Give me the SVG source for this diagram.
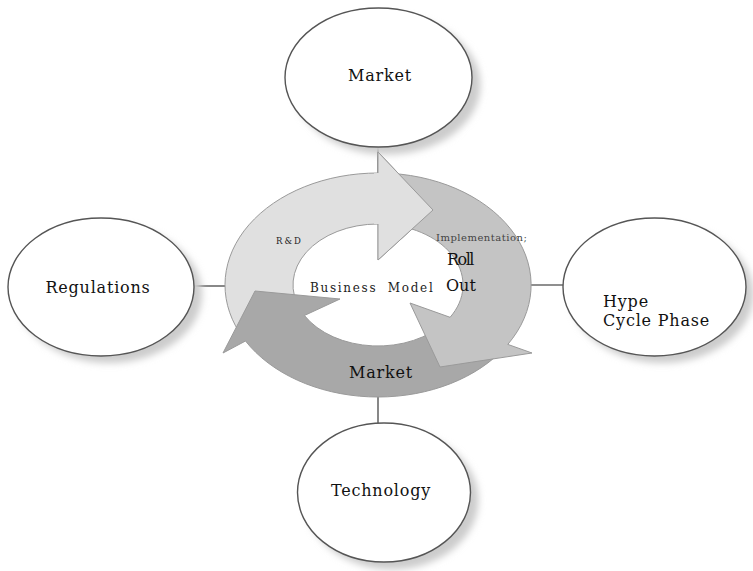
<svg xmlns="http://www.w3.org/2000/svg" width="753" height="571" viewBox="0 0 753 571">
  <defs>
    <filter id="soft" x="-20%" y="-20%" width="140%" height="140%">
      <feGaussianBlur stdDeviation="3.5"/>
    </filter>
  </defs>
  <style>
    .node { fill: #ffffff; stroke: #555555; stroke-width: 1.4; }
    .shadow { fill: #cccccc; filter: url(#soft); }
    .link { stroke: #6a6a6a; stroke-width: 1.6; fill: none; }
    .seg { stroke: #9a9a9a; stroke-width: 1; stroke-linejoin: miter; }
    .light { fill: #e0e0e0; }
    .mid { fill: #c4c4c4; }
    .dark { fill: #a8a8a8; }
    .lbl { font-family: "DejaVu Serif", "Liberation Serif", serif; fill: #111111; font-size: 16px; letter-spacing: 0.8px; }
    .mid-anchor { text-anchor: middle; }
  </style>

  <rect width="753" height="571" fill="#ffffff"/>

  <!-- connectors from the cycle to the outer factors -->
  <g id="connectors">
    <line class="link" x1="378" y1="147" x2="378" y2="174"/>
    <line class="link" x1="378" y1="396" x2="378" y2="423"/>
    <line class="link" x1="194" y1="286" x2="226" y2="286"/>
    <line class="link" x1="530" y1="285" x2="563" y2="285"/>
  </g>

  <!-- outer factor nodes -->
  <g id="node-market-top">
    <ellipse class="shadow" cx="387" cy="85" rx="93.5" ry="69.5"/>
    <ellipse class="node" cx="378.5" cy="77.5" rx="93.5" ry="69.5"/>
    <text class="lbl mid-anchor" x="380" y="80.5">Market</text>
  </g>

  <g id="node-regulations">
    <ellipse class="shadow" cx="109" cy="294" rx="93" ry="69"/>
    <ellipse class="node" cx="101" cy="287" rx="93" ry="69"/>
    <text class="lbl mid-anchor" x="98" y="292.5">Regulations</text>
  </g>

  <g id="node-hype">
    <ellipse class="shadow" cx="662" cy="294" rx="91.5" ry="69"/>
    <ellipse class="node" cx="654.5" cy="287" rx="91.5" ry="69"/>
    <text class="lbl" x="603" y="307">Hype</text>
    <text class="lbl" x="603" y="326">Cycle Phase</text>
  </g>

  <g id="node-technology">
    <ellipse class="shadow" cx="392" cy="500" rx="86.5" ry="69.5"/>
    <ellipse class="node" cx="384" cy="492.5" rx="86.5" ry="69.5"/>
    <text class="lbl mid-anchor" x="381" y="496">Technology</text>
  </g>

  <!-- central cycle: three circular arrows -->
  <g id="node-cycle">
    <!-- R&D arrow: lower left, over the top -->
    <path class="seg light" d="M239.33,332.33 A153,112 0 0 1 378,173 L378,152 L433,210 L378,260 L378,224 A85,61 0 0 0 300.96,310.78 Z"/>
    <!-- Market arrow: along the bottom -->
    <path class="seg dark" d="M500.2,352.4 A153,112 0 0 1 245.5,341 L223,353 L255,291 L340,299 L304.4,315.5 A85,61 0 0 0 445.9,321.7 Z"/>
    <!-- Implementation arrow: down the right side -->
    <path class="seg mid" d="M391.3,173.4 A153,112 0 0 1 507.8,344.4 L532,353 L440,367 L410,303 L450.1,317.3 A85,61 0 0 0 385.4,224.2 Z"/>
    <!-- R&D arrowhead sits above the start of the next arrow -->
    <polygon class="light" points="374,173.2 378,173 378,152 433,210 378,260 378,224 374,224"/>
    <polyline class="seg" fill="none" points="378,173 378,152 433,210 378,260 378,224"/>

    <text font-family="DejaVu Serif, Liberation Serif, serif" font-size="8.5" letter-spacing="2" fill="#222222" x="276" y="244">R&amp;D</text>
    <text font-family="DejaVu Serif, Liberation Serif, serif" font-size="12" letter-spacing="1.7" word-spacing="5" fill="#222222" x="310" y="291.5">Business Model</text>
    <text font-family="DejaVu Serif, Liberation Serif, serif" font-size="10" letter-spacing="0.5" fill="#444444" x="436" y="240.5">Implementation;</text>
    <text font-family="DejaVu Serif, Liberation Serif, serif" font-size="16" letter-spacing="-1.5" fill="#111111" x="447" y="265">Roll</text>
    <text font-family="DejaVu Serif, Liberation Serif, serif" font-size="16" fill="#111111" x="446" y="291">Out</text>
    <text class="lbl mid-anchor" x="381" y="378">Market</text>
  </g>
</svg>
